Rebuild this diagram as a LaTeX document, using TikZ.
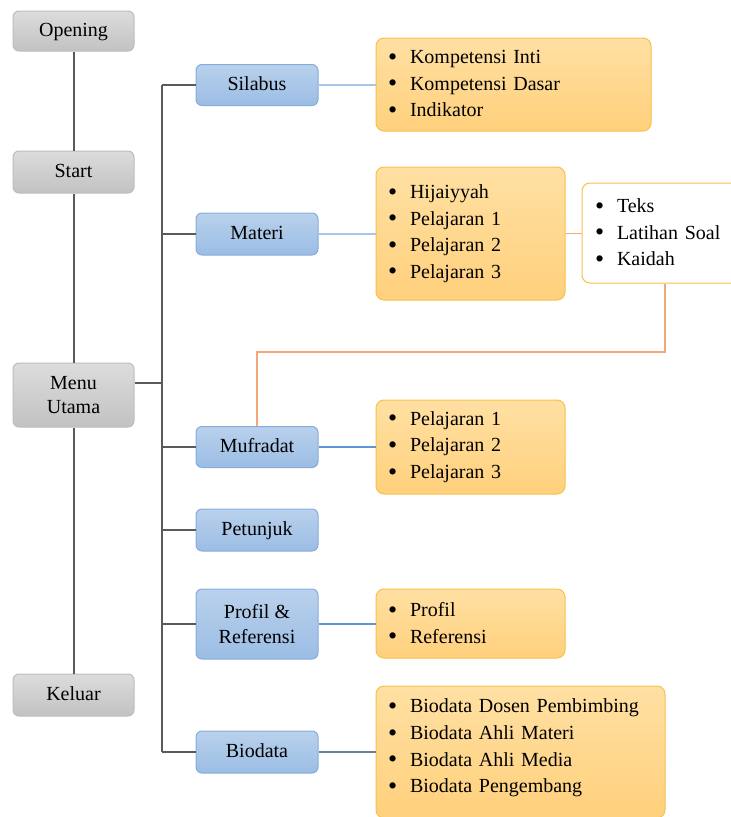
\documentclass[tikz,border=0pt]{standalone}
\usepackage{fontspec}
\setmainfont{Liberation Serif}
\newfontfamily\tnr{Liberation Serif}
\usetikzlibrary{calc}
\definecolor{spine}{HTML}{5A5A5A}
\definecolor{grayTop}{HTML}{DCDCDC}
\definecolor{grayBot}{HTML}{C2C2C2}
\definecolor{grayLine}{HTML}{BDBDBD}
\definecolor{blueTop}{HTML}{B9D1EC}
\definecolor{blueBot}{HTML}{9BBDE4}
\definecolor{blueLine}{HTML}{86ACDB}
\definecolor{orTop}{HTML}{FFE0A3}
\definecolor{orBot}{HTML}{FFD07C}
\definecolor{orLine}{HTML}{F6C24A}
\definecolor{linkLight}{HTML}{A8C7E8}
\definecolor{linkMid}{HTML}{5E95D3}
\definecolor{linkDark}{HTML}{6E7F93}
\definecolor{linkOrange}{HTML}{F4A77A}
\newcommand\itm{\makebox[21pt][l]{\hspace{-1pt}\raisebox{-1.6pt}{\scalebox{1.3}{\textbullet}}}}
\begin{document}
\begin{tikzpicture}[x=1pt,y=-1pt,
  every node/.style={font=\tnr\fontsize{20}{26.6}\selectfont, text=black},
  graybox/.style={rounded corners=6pt, draw=grayLine, line width=1pt, top color=grayTop, bottom color=grayBot, minimum width=121pt, align=center, inner sep=0pt},
  bluebox/.style={rounded corners=6pt, draw=blueLine, line width=1pt, top color=blueTop, bottom color=blueBot, minimum width=122pt, align=center, inner sep=0pt},
  onel/.style={text height=14pt, text depth=3pt},
  listbox/.style={rounded corners=8pt, draw=orLine, line width=1pt, top color=orTop, bottom color=orBot, inner xsep=13pt, inner ysep=0pt, align=left},
  whitebox/.style={rounded corners=8pt, draw=orLine, line width=1pt, fill=white, inner xsep=14pt, inner ysep=0pt, align=left},
  trunk/.style={draw=spine, line width=2pt},
  lnk/.style={line width=1.8pt}
]
\useasboundingbox (0,0) rectangle (731,817);
\clip (0,0) rectangle (731,817);

% left column
\node[graybox, onel, minimum height=40pt] (opening) at (73.5,31) {Opening};
\node[graybox, onel, minimum height=42pt] (start) at (73.5,172) {Start};
\node[graybox, minimum height=64pt] (menu) at (73.5,395) {Menu\\[-2pt]Utama};
\node[graybox, onel, minimum height=42pt] (keluar) at (73.5,695) {Keluar};

% blue column
\node[bluebox, onel, minimum height=41pt] (silabus) at (257,85) {Silabus};
\node[bluebox, onel, minimum height=42pt] (materi) at (257,234) {Materi};
\node[bluebox, onel, minimum height=41pt] (mufradat) at (257,447) {Mufradat};
\node[bluebox, onel, minimum height=42pt] (petunjuk) at (257,530) {Petunjuk};
\node[bluebox, minimum height=70pt] (profil) at (257,624) {Profil \&\\[-2pt]Referensi};
\node[bluebox, onel, minimum height=42pt] (biodata) at (257,752) {Biodata};

% list boxes
\node[listbox, minimum width=275pt, minimum height=93pt, text width=249pt] (silabusL) at (513.5,84.5)
  {\itm Kompetensi Inti\\\itm Kompetensi Dasar\\\itm Indikator};
\node[listbox, minimum width=189pt, minimum height=133pt, text width=163pt] (materiL) at (470.5,233.5)
  {\itm Hijaiyyah\\\itm Pelajaran 1\\\itm Pelajaran 2\\\itm Pelajaran 3};
\node[whitebox, minimum width=180pt, minimum height=100pt, text width=152pt] (white) at (672,233)
  {\itm Teks\\\itm Latihan Soal\\\itm Kaidah};
\node[listbox, minimum width=189pt, minimum height=94pt, text width=163pt] (mufradatL) at (470.5,447)
  {\itm Pelajaran 1\\\itm Pelajaran 2\\\itm Pelajaran 3};
\node[listbox, minimum width=189pt, minimum height=69pt, text width=163pt] (profilL) at (470.5,623.5)
  {\itm Profil\\\itm Referensi};
\node[listbox, minimum width=289pt, minimum height=132pt, text width=263pt] (biodataL) at (520.5,752)
  {\itm Biodata Dosen Pembimbing\\\itm Biodata Ahli Materi\\\itm Biodata Ahli Media\\\itm Biodata Pengembang\vspace{8pt}};

% coordinates
\coordinate (tr) at (162,0);
\coordinate (bend) at (665,352);

% spine
\draw[trunk] (opening.south) -- (start.north);
\draw[trunk] (start.south) -- (menu.north);
\draw[trunk] (menu.south) -- (keluar.north);

% trunk
\draw[trunk] (tr |- silabus) -- (tr |- biodata);
\draw[trunk] ([yshift=12pt]menu.east) -- ([yshift=12pt]menu.east -| tr);
\foreach \n in {silabus,materi,mufradat,petunjuk,profil,biodata}
  \draw[trunk] (tr |- \n) -- (\n.west);

% links to lists
\draw[lnk, linkLight] (silabus.east) -- (silabus.east -| silabusL.west);
\draw[lnk, linkLight] (materi.east) -- (materi.east -| materiL.west);
\draw[lnk, linkMid] (mufradat.east) -- (mufradat.east -| mufradatL.west);
\draw[lnk, linkMid] (profil.east) -- (profil.east -| profilL.west);
\draw[lnk, linkDark] (biodata.east) -- (biodata.east -| biodataL.west);
\draw[lnk, linkOrange] (materiL.east) -- (materiL.east -| white.west);
\draw[lnk, linkOrange] (bend |- white.south) -- (bend) -| (mufradat.north);
\end{tikzpicture}
\end{document}
